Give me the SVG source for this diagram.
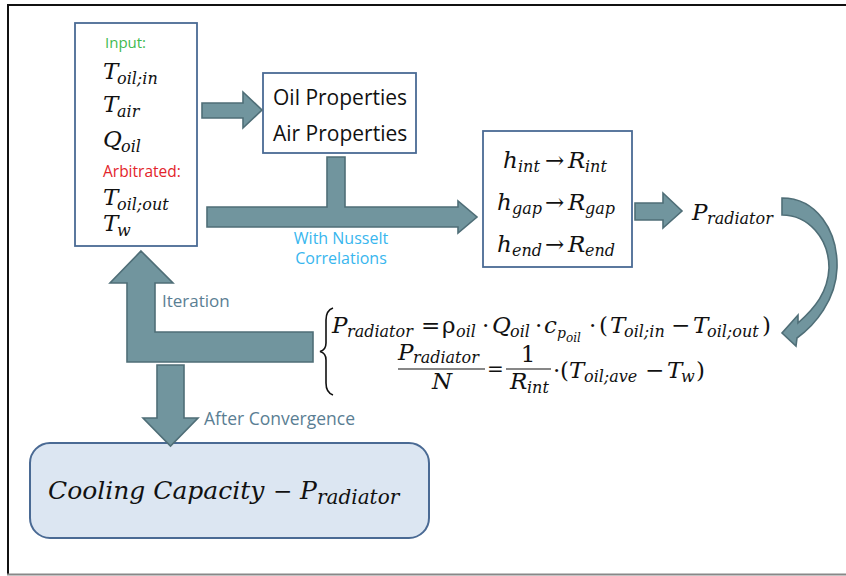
<svg xmlns="http://www.w3.org/2000/svg" width="846" height="576" viewBox="0 0 846 576">
<style>
.box{fill:#ffffff;stroke:#4a6a94;stroke-width:1.8}
.cool{fill:#dce6f2;stroke:#4a6a94;stroke-width:2}
.arr{fill:#71959e;stroke:#4f6e77;stroke-width:1.6;stroke-linejoin:miter}
.lbl{font-family:"Open Sans","DejaVu Sans",sans-serif}
.m{font-family:"DejaVu Serif","Liberation Serif",serif;font-style:italic;fill:#111111}
.u{font-style:normal}
.M{font-size:23px}
.S{font-size:16px}
.bar{stroke:#111111;stroke-width:1.2}
</style>
<rect x="0" y="0" width="846" height="576" fill="#ffffff"/>
<line x1="7" y1="5" x2="846" y2="5" stroke="#111111" stroke-width="2"/>
<line x1="8" y1="4" x2="8" y2="575" stroke="#111111" stroke-width="2"/>
<line x1="7" y1="574.5" x2="846" y2="574.5" stroke="#888888" stroke-width="2"/>

<g id="input">
<rect class="box" x="75" y="23" width="122" height="223"/>
<text class="lbl" x="105" y="48" font-size="15" fill="#3fba4f">Input:</text>
<text class="m M" x="103" y="79">T<tspan class="S" x="117" y="84">oil;in</tspan></text>
<text class="m M" x="103" y="112">T<tspan class="S" x="117" y="117">air</tspan></text>
<text class="m M" x="103" y="147">Q<tspan class="S" x="121" y="152">oil</tspan></text>
<text class="lbl" x="103" y="177" font-size="15.5" fill="#e3242b">Arbitrated:</text>
<text class="m M" x="103" y="205">T<tspan class="S" x="117" y="210">oil;out</tspan></text>
<text class="m M" x="103" y="231">T<tspan class="S" x="117" y="236">w</tspan></text>
</g>

<g id="properties">
<rect class="box" x="263" y="73" width="153" height="80"/>
<text class="lbl" x="273" y="105" font-size="21" fill="#111111">Oil Properties</text>
<text class="lbl" x="273" y="141" font-size="21" fill="#111111">Air Properties</text>
</g>

<g id="resistances">
<rect class="box" x="483" y="131" width="149" height="136"/>
<text class="m M" x="503" y="168">h<tspan class="S" x="518" y="172">int</tspan><tspan class="u" x="545" y="168">→</tspan><tspan x="568" y="168">R</tspan><tspan class="S" x="585" y="172">int</tspan></text>
<text class="m M" x="497" y="210">h<tspan class="S" x="512" y="214">gap</tspan><tspan class="u" x="545" y="210">→</tspan><tspan x="568" y="210">R</tspan><tspan class="S" x="585" y="214">gap</tspan></text>
<text class="m M" x="497" y="252">h<tspan class="S" x="512" y="256">end</tspan><tspan class="u" x="545" y="252">→</tspan><tspan x="568" y="252">R</tspan><tspan class="S" x="585" y="256">end</tspan></text>
</g>

<g id="pradiator">
<text class="m M" x="692" y="220">P<tspan class="S" x="707" y="224">radiator</tspan></text>
</g>

<g id="equations">
<path d="M333,308 C327.5,310 326,314 326,320 L326,343 C326,348 324,350.5 320,351.5 C324,352.5 326,355 326,360 L326,383 C326,389 327.5,393 333,395" fill="none" stroke="#111111" stroke-width="1.6"/>
<text class="m M" x="332" y="333">P<tspan class="S" x="347" y="337">radiator</tspan><tspan class="u" x="421" y="333">=</tspan><tspan class="u" x="442" y="333">ρ</tspan><tspan class="S" x="456" y="337">oil</tspan><tspan class="u" x="482" y="333">·</tspan><tspan x="492" y="333">Q</tspan><tspan class="S" x="510" y="337">oil</tspan><tspan class="u" x="535" y="333">·</tspan><tspan x="544" y="333">c</tspan><tspan font-size="14" x="557" y="338">p</tspan><tspan font-size="12" x="566" y="342">oil</tspan><tspan class="u" x="589" y="333">·</tspan><tspan class="u" x="599" y="333">(</tspan><tspan x="610" y="333">T</tspan><tspan class="S" x="624" y="337">oil;in</tspan><tspan class="u" x="671" y="333">−</tspan><tspan x="693" y="333">T</tspan><tspan class="S" x="707" y="337">oil;out</tspan><tspan class="u" x="762" y="333">)</tspan></text>
<text class="m M" x="398" y="360">P<tspan class="S" x="413" y="363">radiator</tspan></text>
<line class="bar" x1="398" y1="369" x2="485" y2="369"/>
<text class="m M" x="432" y="389">N</text>
<text class="m u" x="487" y="376" font-size="20">=</text>
<text class="m M u" x="528" y="362" text-anchor="middle">1</text>
<line class="bar" x1="506" y1="369" x2="551" y2="369"/>
<text class="m M" x="510" y="389">R<tspan class="S" x="527" y="393">int</tspan></text>
<text class="m M" x="553" y="378"><tspan class="u">·</tspan><tspan class="u" x="560" y="378">(</tspan><tspan x="569" y="378">T</tspan><tspan class="S" x="584" y="382">oil;ave</tspan><tspan class="u" x="645" y="378">−</tspan><tspan x="667" y="378">T</tspan><tspan class="S" x="681" y="382">w</tspan><tspan class="u" x="696" y="378">)</tspan></text>
</g>

<g id="cooling">
<rect class="cool" x="30" y="443" width="399" height="95" rx="20" ry="20"/>
<text class="m" x="48" y="499" font-size="25">Cooling Capacity<tspan class="u" x="273" y="499" font-size="23">−</tspan><tspan x="300" y="499">P</tspan><tspan x="317" y="504" font-size="20">radiator</tspan></text>
</g>

<g id="connectors">
<polygon class="arr" points="202,103 243,103 243,92 262,110 243,128 243,118 202,118"/>
<polygon class="arr" points="207,207 327,207 327,157 345,157 345,207 458,207 458,201 477,217 458,233 458,227 207,227"/>
<polygon class="arr" points="635,203 663,203 663,193 682,211 663,228 663,220 635,220"/>
<path class="arr" d="M782,198 C816,198 838,230 837,268 C836,300 815,325 797,338 L796,346 L782,333 L798,315 L798,323 C815,308 828,292 829,268 C829,238 808,215 782,215 Z"/>
<polygon class="arr" points="141,251 173,283 155,283 155,332 313,332 313,362 127,362 127,283 110,283"/>
<polygon class="arr" points="157,365 184,365 184,418 198,418 170.5,446 143,418 157,418"/>
<text class="lbl" x="341" y="244" font-size="16" fill="#38b6ee" text-anchor="middle">With Nusselt</text>
<text class="lbl" x="341" y="264" font-size="16" fill="#38b6ee" text-anchor="middle">Correlations</text>
<text class="lbl" x="162" y="307" font-size="17" fill="#5a7e93">Iteration</text>
<text class="lbl" x="204" y="425" font-size="17.5" fill="#5a7e93">After Convergence</text>
</g>
</svg>
